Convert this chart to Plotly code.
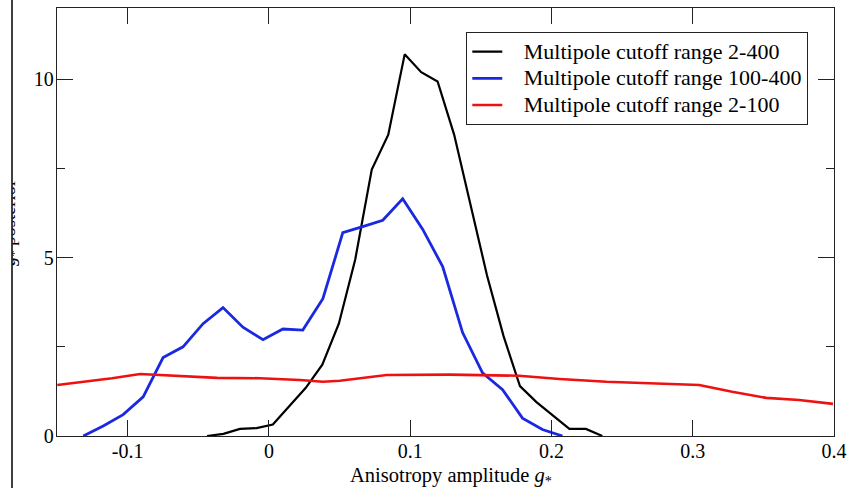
import plotly.graph_objects as go

# ---------------- data ----------------
x_black = [-0.0438, -0.0322, -0.0205, -0.0088, 0.0028, 0.0145, 0.0261, 0.0378, 0.0495,
           0.0611, 0.0728, 0.0845, 0.0961, 0.1078, 0.1194, 0.1311, 0.1428, 0.1544,
           0.1661, 0.1777, 0.1894, 0.2011, 0.2127, 0.2244, 0.2360]
y_black = [0.0, 0.06, 0.2, 0.22, 0.32, 0.85, 1.35, 2.0, 3.15,
           4.95, 7.47, 8.45, 10.7, 10.2, 9.94, 8.45, 6.5, 4.5,
           2.8, 1.4, 0.95, 0.58, 0.2, 0.2, 0.0]

x_blue = [-0.1314, -0.1173, -0.1032, -0.0890, -0.0749, -0.0608, -0.0466, -0.0325, -0.0184,
          -0.0042, 0.0099, 0.0240, 0.0382, 0.0523, 0.0664, 0.0806, 0.0947, 0.1088,
          0.1230, 0.1371, 0.1512, 0.1654, 0.1795, 0.1936, 0.2078]
y_blue = [0.0, 0.28, 0.6, 1.1, 2.2, 2.5, 3.15, 3.6, 3.05,
          2.7, 3.0, 2.97, 3.85, 5.7, 5.87, 6.05, 6.65, 5.8,
          4.75, 2.9, 1.77, 1.3, 0.5, 0.18, 0.0]

x_red = [-0.1498, -0.130, -0.111, -0.0912, -0.0629, -0.0367, -0.0064, 0.0219, 0.0382,
         0.0502, 0.0834, 0.128, 0.177, 0.2057, 0.2389, 0.2693, 0.3046, 0.3279,
         0.352, 0.3753, 0.3993]
y_red = [1.43, 1.52, 1.62, 1.74, 1.69, 1.63, 1.62, 1.57, 1.52,
         1.55, 1.71, 1.72, 1.69, 1.6, 1.52, 1.47, 1.43, 1.24,
         1.07, 1.01, 0.9]

names = ["Multipole cutoff range 2-400", "Multipole cutoff range 100-400",
         "Multipole cutoff range 2-100"]
colors = ["#000000", "#1a29e0", "#ee1111"]
widths = [2.2, 2.8, 2.6]

x_ticks = [-0.1, 0, 0.1, 0.2, 0.3, 0.4]
x_ticklabels = ["-0.1", "0", "0.1", "0.2", "0.3", "0.4"]
y_ticks = [0, 5, 10]
y_ticklabels = ["0", "5", "10"]

x_title = "Anisotropy amplitude <i>g</i><sub>*</sub>"
y_title = "<i>g</i><sub>*</sub> posterior"

W, H = 848, 488
FONT = "Liberation Serif"

fig = go.Figure()
for xs, ys, nm, c, w in [(x_black, y_black, names[0], colors[0], widths[0]),
                         (x_blue, y_blue, names[1], colors[1], widths[1]),
                         (x_red, y_red, names[2], colors[2], widths[2])]:
    label = '<span style="font-size:22px">&nbsp;&nbsp;&nbsp;' + nm + '</span>'
    fig.add_trace(go.Scatter(x=xs, y=ys, mode="lines", name=label,
                             line=dict(color=c, width=w)))

# clipped y-axis label (as in the reference, cut by the page border)
fig.add_trace(go.Bar(x=[-0.09], y=[0.686], base=[0.2], width=[3],
                     xaxis="x2", yaxis="y2", text=[y_title],
                     textposition="inside", textangle=-90,
                     insidetextanchor="middle",
                     textfont=dict(family=FONT, size=18.5, color="black"),
                     marker=dict(color="rgba(0,0,0,0)", line=dict(width=0)),
                     showlegend=False, hoverinfo="skip", cliponaxis=True))

axcol = "#222222"
fig.update_layout(
    width=W, height=H, template="none",
    margin=dict(l=0, r=0, t=0, b=0),
    paper_bgcolor="white", plot_bgcolor="white",
    font=dict(family=FONT, size=20, color="black"),
    xaxis=dict(domain=[57 / W, 834 / W], range=[-0.15, 0.4],
               tickvals=x_ticks, ticktext=x_ticklabels,
               ticks="inside", ticklen=16, tickwidth=1.3, tickcolor=axcol,
               ticklabelstandoff=-3,
               showline=True, linecolor=axcol, linewidth=1.4, mirror="ticks",
               showgrid=False, zeroline=False, automargin=False,
               tickfont=dict(family=FONT, size=20)),
    yaxis=dict(domain=[(H - 436) / H, (H - 8) / H], range=[0, 12],
               tickvals=y_ticks, ticktext=y_ticklabels,
               ticks="inside", ticklen=16, tickwidth=1.3, tickcolor=axcol,
               ticklabelstandoff=-2,
               minor=dict(tickvals=[2.5, 7.5], ticks="inside", ticklen=8,
                          tickwidth=1.3, tickcolor=axcol, showgrid=False),
               showline=True, linecolor=axcol, linewidth=1.4, mirror="ticks",
               showgrid=False, zeroline=False, automargin=False,
               tickfont=dict(family=FONT, size=20)),
    xaxis2=dict(domain=[12.5 / W, 40 / W], range=[0, 1], visible=False,
                fixedrange=True),
    yaxis2=dict(domain=[0, 1], range=[0, 1], visible=False, anchor="x2",
                fixedrange=True),
    legend=dict(x=808 / W, y=(H - 32) / H, xanchor="right", yanchor="top",
                bgcolor="white", bordercolor="#222222", borderwidth=1.3,
                font=dict(family=FONT, size=18.2), itemwidth=30,
                tracegroupgap=0),
    showlegend=True,
    annotations=[dict(text=x_title, xref="paper", yref="paper",
                      x=451 / W, y=(H - 476) / H, xanchor="center",
                      yanchor="middle", showarrow=False,
                      font=dict(family=FONT, size=20.5, color="black"))],
    shapes=[dict(type="line", xref="paper", yref="paper", x0=12 / W, x1=12 / W,
                 y0=0, y1=1, line=dict(color="black", width=1.5))],
)

fig.write_html("out.html")
